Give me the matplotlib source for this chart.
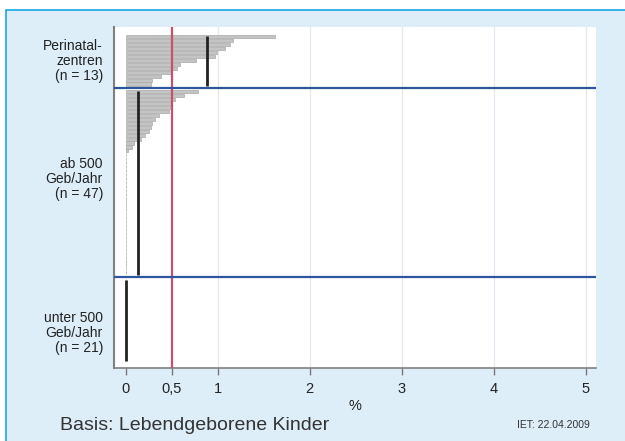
import numpy as np
import matplotlib
matplotlib.use("Agg")
import matplotlib.pyplot as plt
from matplotlib.patches import Rectangle

plt.rcParams['font.family'] = ['Liberation Sans', 'DejaVu Sans']

# Werte in %, je Klinik (absteigend sortiert)
perinatal = [1.62, 1.17, 1.13, 1.08, 0.99, 0.97, 0.76, 0.59, 0.56, 0.49, 0.38, 0.29, 0.27]
ab500 = [0.79, 0.63, 0.54, 0.50, 0.49, 0.47, 0.36, 0.32, 0.29, 0.27, 0.25, 0.21, 0.17,
         0.09, 0.07, 0.03,
         0, 0, 0, 0, 0, 0, 0, 0, 0, 0, 0, 0, 0, 0, 0, 0,
         0, 0, 0, 0, 0, 0, 0, 0, 0, 0, 0, 0, 0, 0, 0]
unter500 = [0, 0, 0, 0, 0, 0, 0, 0, 0, 0, 0, 0, 0, 0, 0, 0, 0, 0, 0, 0, 0]
gruppen = [perinatal, ab500, unter500]
gesamt = [0.88, 0.13, 0.0]
labels = ["Perinatal-\nzentren\n(n = 13)", "ab 500\nGeb/Jahr\n(n = 47)", "unter 500\nGeb/Jahr\n(n = 21)"]
referenz = 0.5
xticks = [0, 0.5, 1, 2, 3, 4, 5]
xticklabels = ["0", "0,5", "1", "2", "3", "4", "5"]

W, H = 625, 441
fig = plt.figure(figsize=(W / 100, H / 100), dpi=100)
fig.patch.set_facecolor('white')
fig.patches.append(Rectangle((6 / W, -0.01), 1.0, 1 - 10 / H + 0.01, transform=fig.transFigure,
                             facecolor='#ddeef9', edgecolor='#1aa6e4', lw=1.2, zorder=-10))

ax = fig.add_axes([114 / W, 1 - 368 / H, 482 / W, 341 / H])
ax.set_facecolor('white')

pos = 0
for g, werte in enumerate(gruppen):
    y = np.arange(pos, pos + len(werte))
    ax.barh(y, werte, height=0.8, left=0, color='#c4c4c4', edgecolor='#a8a8a8', lw=0.5, zorder=2)
    ax.vlines(gesamt[g], pos - 0.2, pos + len(werte) - 0.5, color='#222222', lw=2, zorder=4)
    pos += len(werte)
    if g < len(gruppen) - 1:
        ax.axhline(pos, color='#2e55a0', lw=1.6, zorder=5)
        pos += 1

ax.axvline(referenz, color='#c9506c', lw=1.6, zorder=3)
for t in [1, 2, 3, 4, 5]:
    ax.axvline(t, color='#e1e8ef', lw=0.9, zorder=1)

ax.set_ylim(84.2, -2.5)
ax.set_xlim(-0.127, 5.11)
ax.set_yticks([])
ax.set_xticks(xticks)
ax.set_xticklabels(xticklabels, fontsize=10.5, color='#222222')
ax.tick_params(axis='x', direction='out', length=5, width=1, color='#777777', pad=5)
for s in ['top', 'right']:
    ax.spines[s].set_visible(False)
ax.spines['left'].set_color('#808080')
ax.spines['left'].set_linewidth(1.5)
ax.spines['bottom'].set_color('#808080')
ax.spines['bottom'].set_linewidth(1.2)
ax.set_xlabel('%', fontsize=10.5, color='#222222', labelpad=2)

label_y = [61, 179, 333]
for lab, ly in zip(labels, label_y):
    fig.text(103 / W, 1 - ly / H, lab, ha='right', va='center', multialignment='right',
             fontsize=10, color='#222222', linespacing=1.08)

fig.text(60 / W, 1 - 425 / H, 'Basis: Lebendgeborene Kinder', ha='left', va='center',
         fontsize=14, color='#333333')
fig.text(590 / W, 1 - 425 / H, 'IET: 22.04.2009', ha='right', va='center',
         fontsize=7.5, color='#333333')

fig.savefig('out.png', dpi=100)
